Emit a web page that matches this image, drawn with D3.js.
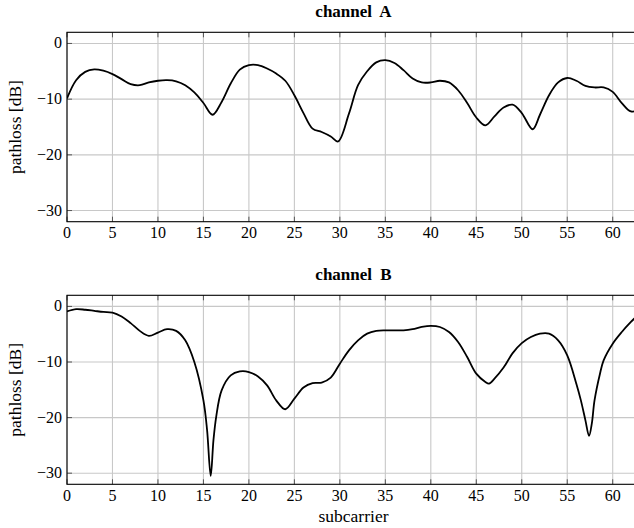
<!DOCTYPE html>
<html><head><meta charset="utf-8">
<script src="https://cdn.jsdelivr.net/npm/d3@7"></script>
<style>
body{margin:0;background:#fff;overflow:hidden}
svg{display:block}
</style>
</head><body>
<svg id="c" width="634" height="528"></svg>
<script>
// ---- data ----
const titles = ["channel A", "channel B"];
const xLabel = "subcarrier";
const yLabel = "pathloss [dB]";
const xTicks = [0, 5, 10, 15, 20, 25, 30, 35, 40, 45, 50, 55, 60];
const yTicks = [0, -10, -20, -30];
const xDomain = [0, 63];
const yDomain = [-32, 2];

const subA = [0,1,2,3,4,5,6,7,8,9,10,11,12,13,14,15,16,17,18,19,20,21,22,23,24,25,26,27,28,29,29.8,31,32,33,34,35,36,37,38,39,40,41,42,43,44,45,46,47,48,49,50,51.2,52,53,54,55,56,57,58,59,60,61,62,63];
const lossA = [-9.85,-6.6,-5.1,-4.65,-4.9,-5.5,-6.4,-7.3,-7.5,-7.0,-6.7,-6.6,-6.8,-7.5,-8.8,-10.7,-12.8,-10.5,-7.2,-4.7,-3.9,-3.9,-4.5,-5.4,-6.7,-9.3,-12.5,-15.3,-15.9,-16.7,-17.6,-12.6,-7.5,-5.0,-3.4,-3.0,-3.5,-4.8,-6.3,-7.0,-7.0,-6.7,-7.0,-8.4,-10.7,-13.3,-14.7,-13.1,-11.5,-11.0,-12.5,-15.4,-12.8,-9.3,-7.0,-6.2,-6.7,-7.6,-7.9,-7.9,-8.7,-10.7,-12.2,-11.8];

const subB = [0,1,2,3,4,5,6,7,8,9,10,11,12,13,14,15,15.4,15.8,16.1,16.4,17,18,19,20,21,22,23,24,25,26,27,28,29,30,31,32,33,34,35,36,37,38,39,40,41,42,43,44,45,46,46.4,47,48,49,50,51,52,53,54,55,56,56.5,57,57.4,57.7,58,58.6,59,60,61,62,63];
const lossB = [-0.9,-0.5,-0.6,-0.8,-1.0,-1.1,-1.8,-3.0,-4.4,-5.3,-4.7,-4.1,-4.4,-6.1,-10.0,-16.9,-22.2,-30.5,-24.1,-19.9,-15.1,-12.4,-11.7,-11.8,-12.6,-14.2,-16.9,-18.5,-16.6,-14.6,-13.8,-13.7,-12.8,-10.3,-7.9,-6.1,-4.9,-4.4,-4.3,-4.3,-4.3,-4.1,-3.7,-3.5,-3.7,-4.6,-6.4,-9.1,-12.1,-13.6,-13.9,-13.0,-11.0,-8.4,-6.6,-5.5,-4.9,-4.9,-6.1,-8.8,-13.9,-16.9,-20.5,-23.3,-21.1,-16.9,-12.1,-9.7,-6.7,-4.6,-2.8,-1.2];

const series = [
  {sub: subA, loss: lossA},
  {sub: subB, loss: lossB}
];

// ---- layout ----
const FONT = "Liberation Serif";
const svg = d3.select("#c");
const left = 67, right = 640;
const panels = [{top: 32.3, bottom: 221.7}, {top: 295.3, bottom: 484.3}];
const x = d3.scaleLinear().domain(xDomain).range([left, right]);

panels.forEach((p, i) => {
  const y = d3.scaleLinear().domain(yDomain).range([p.bottom, p.top]);
  const g = svg.append("g");
  const cid = "clip" + i;
  svg.append("clipPath").attr("id", cid).append("rect")
    .attr("x", left).attr("y", p.top).attr("width", right - left).attr("height", p.bottom - p.top);

  // grid
  g.append("g").selectAll("line").data(xTicks).join("line")
    .attr("x1", d => x(d)).attr("x2", d => x(d)).attr("y1", p.top).attr("y2", p.bottom)
    .attr("stroke", "#c8c8c8").attr("stroke-width", 1.1);
  g.append("g").selectAll("line").data(yTicks).join("line")
    .attr("y1", d => y(d)).attr("y2", d => y(d)).attr("x1", left).attr("x2", right)
    .attr("stroke", "#c8c8c8").attr("stroke-width", 1.1);

  // tick marks (inside, both sides)
  const tl = 5;
  const tm = g.append("g").attr("stroke", "#555").attr("stroke-width", 1);
  xTicks.forEach(d => {
    tm.append("line").attr("x1", x(d)).attr("x2", x(d)).attr("y1", p.bottom).attr("y2", p.bottom - tl);
    tm.append("line").attr("x1", x(d)).attr("x2", x(d)).attr("y1", p.top).attr("y2", p.top + tl);
  });
  yTicks.forEach(d => {
    tm.append("line").attr("x1", left).attr("x2", left + tl).attr("y1", y(d)).attr("y2", y(d));
    tm.append("line").attr("x1", right).attr("x2", right - tl).attr("y1", y(d)).attr("y2", y(d));
  });

  // curve
  const s = series[i];
  const pts = s.sub.map((v, j) => [v, s.loss[j]]);
  const line = d3.line().x(d => x(d[0])).y(d => y(d[1])).curve(d3.curveCatmullRom.alpha(0.5));
  g.append("path").attr("d", line(pts)).attr("clip-path", `url(#${cid})`)
    .attr("fill", "none").attr("stroke", "#000").attr("stroke-width", 1.8)
    .attr("stroke-linejoin", "round");

  // frame
  g.append("rect").attr("x", left).attr("y", p.top).attr("width", right - left).attr("height", p.bottom - p.top)
    .attr("fill", "none").attr("stroke", "#000").attr("stroke-width", 1.1);

  // tick labels
  const fmt = d3.format("d");
  g.append("g").selectAll("text").data(xTicks).join("text")
    .attr("x", d => x(d)).attr("y", p.bottom + 16.5).attr("text-anchor", "middle")
    .attr("font-family", FONT).attr("font-size", 16).text(d => fmt(d));
  g.append("g").selectAll("text").data(yTicks).join("text")
    .attr("x", left - 5).attr("y", d => y(d) + 5).attr("text-anchor", "end")
    .attr("font-family", FONT).attr("font-size", 16).text(d => fmt(d));

  // title
  g.append("text").attr("x", (left + right) / 2).attr("y", p.top - 15.5)
    .attr("text-anchor", "middle").attr("font-family", FONT).attr("font-size", 17).attr("font-weight", "bold")
    .attr("word-spacing", 4).text(titles[i]);

  // y label
  g.append("text").attr("transform", `translate(21,${(p.top + p.bottom) / 2}) rotate(-90)`)
    .attr("text-anchor", "middle").attr("font-family", FONT).attr("font-size", 17.5).text(yLabel);
});

svg.append("text").attr("x", (left + right) / 2).attr("y", 522)
  .attr("text-anchor", "middle").attr("font-family", FONT).attr("font-size", 17.5).text(xLabel);
</script>
</body></html>
